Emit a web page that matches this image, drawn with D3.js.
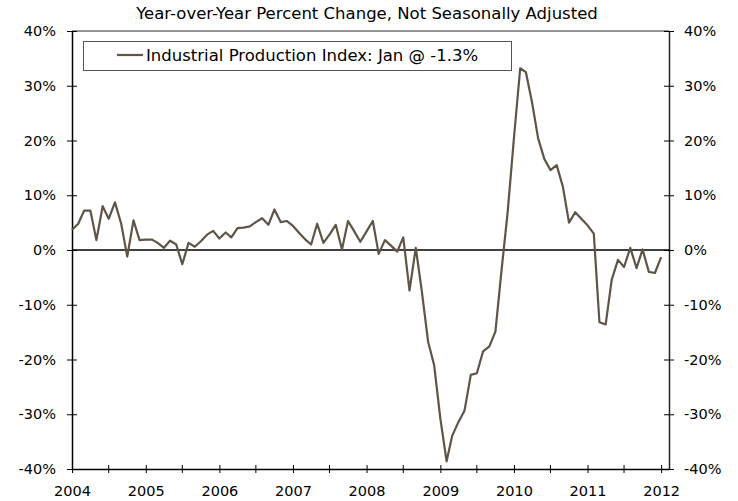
<!DOCTYPE html>
<html>
<head>
<meta charset="utf-8">
<script src="https://cdn.jsdelivr.net/npm/d3@7/dist/d3.min.js"></script>
<style>
  html, body { margin: 0; padding: 0; background: #fff; }
  svg { display: block; font-family: "DejaVu Sans", Verdana, sans-serif; }
</style>
</head>
<body>
<svg id="chart" width="738" height="501"></svg>
<script>
const subtitle = "Year-over-Year Percent Change, Not Seasonally Adjusted";
const seriesName = "Industrial Production Index: Jan @ -1.3%";
const startYear = 2004;
const startMonth = 0;
// Monthly YoY % change, Jan 2004 .. Jan 2012
const values = [
  3.7, 4.8, 7.2, 7.2, 1.8, 8.0, 5.7, 8.7, 4.8, -1.2, 5.4, 1.8,
  1.9, 1.9, 1.3, 0.4, 1.7, 1.0, -2.6, 1.3, 0.6, 1.6, 2.8, 3.5,
  2.1, 3.2, 2.3, 4.0, 4.1, 4.3, 5.1, 5.8, 4.6, 7.4, 5.1, 5.3,
  4.4, 3.1, 2.0, 1.0, 4.8, 1.3, 2.8, 4.6, 0.1, 5.3, 3.4, 1.5,
  3.4, 5.3, -0.7, 1.8, 0.8, -0.3, 2.3, -7.4, 0.4, -7.5, -16.7, -21.0,
  -30.8, -38.6, -33.9, -31.4, -29.3, -22.8, -22.5, -18.5, -17.6, -14.9, -3.5, 7.0,
  20.5, 33.2, 32.5, 26.9, 20.4, 16.6, 14.6, 15.5, 11.5, 5.0, 6.9, 5.7,
  4.5, 3.0, -13.2, -13.6, -5.4, -1.8, -3.1, 0.4, -3.3, 0.1, -4.0, -4.2,
  -1.3
];
const yTicks = [-40, -30, -20, -10, 0, 10, 20, 30, 40];
const yearTicks = [2004, 2005, 2006, 2007, 2008, 2009, 2010, 2011, 2012];

const data = values.map((v, i) => ({ date: new Date(startYear, startMonth + i, 1), value: v }));

const svg = d3.select("#chart");
const L = 72, R = 669, T = 31, B = 469;

const x = d3.scaleTime()
  .domain([new Date(2004, 0, 1), new Date(2012, 1, 9)])
  .range([L, R]);
const y = d3.scaleLinear().domain([-40, 40]).range([B, T]);

// subtitle
svg.append("text")
  .attr("x", 367).attr("y", 19)
  .attr("text-anchor", "middle")
  .attr("font-size", 16.5)
  .attr("fill", "#000")
  .text(subtitle);

// top border
svg.append("line")
  .attr("x1", L).attr("x2", R).attr("y1", T).attr("y2", T)
  .attr("stroke", "#707070").attr("stroke-width", 1.5);

// left axis
const yAxisL = d3.axisLeft(y).tickValues(yTicks).tickFormat(d => d + "%").tickSizeInner(5).tickSizeOuter(0).tickPadding(11);
const gL = svg.append("g").attr("transform", `translate(${L},0)`).call(yAxisL);
gL.select(".domain").attr("stroke", "#000").attr("stroke-width", 1.5);
gL.selectAll(".tick line").attr("stroke", "#000").attr("x2", -5).attr("x1", 5);
gL.selectAll(".tick text").attr("font-size", 14.5).attr("fill", "#000").attr("font-family", "DejaVu Sans, Verdana, sans-serif");

// right axis
const yAxisR = d3.axisRight(y).tickValues(yTicks).tickFormat(d => d + "%").tickSizeInner(5).tickSizeOuter(0).tickPadding(10);
const gR = svg.append("g").attr("transform", `translate(${R},0)`).call(yAxisR);
gR.select(".domain").attr("stroke", "#222").attr("stroke-width", 1.5);
gR.selectAll(".tick line").attr("stroke", "#000").attr("x1", -5).attr("x2", 5);
gR.selectAll(".tick text").attr("font-size", 14.5).attr("fill", "#000").attr("font-family", "DejaVu Sans, Verdana, sans-serif");

// bottom axis
const xAxis = d3.axisBottom(x)
  .tickValues(yearTicks.map(yr => new Date(yr, 0, 1)))
  .tickFormat(d3.timeFormat("%Y"))
  .tickSizeInner(4).tickSizeOuter(0).tickPadding(13);
const gB = svg.append("g").attr("transform", `translate(0,${B})`).call(xAxis);
gB.select(".domain").attr("stroke", "#000").attr("stroke-width", 1.5);
gB.selectAll(".tick line").attr("stroke", "#000").attr("y1", -4).attr("y2", 4);
gB.selectAll(".tick text").attr("font-size", 14.5).attr("fill", "#000").attr("font-family", "DejaVu Sans, Verdana, sans-serif");
// minor mid-year ticks
const minor = yearTicks.slice(0, -1).map(yr => new Date(yr, 6, 1));
gB.selectAll(".minor").data(minor).enter().append("line")
  .attr("class", "minor")
  .attr("x1", d => x(d)).attr("x2", d => x(d))
  .attr("y1", -4).attr("y2", 4)
  .attr("stroke", "#000");

// zero line
svg.append("line")
  .attr("x1", L).attr("x2", R).attr("y1", y(0)).attr("y2", y(0))
  .attr("stroke", "#000").attr("stroke-width", 1.5);

// series line
const line = d3.line().x(d => x(d.date)).y(d => y(d.value));
svg.append("path").datum(data)
  .attr("d", line)
  .attr("fill", "none")
  .attr("stroke", "#5f5448")
  .attr("stroke-width", 2.2)
  .attr("stroke-linejoin", "round");

// legend
const lg = svg.append("g");
lg.append("rect")
  .attr("x", 83.5).attr("y", 41.5).attr("width", 428).attr("height", 29)
  .attr("fill", "#fff").attr("stroke", "#555").attr("stroke-width", 1);
lg.append("line")
  .attr("x1", 117).attr("x2", 143).attr("y1", 55).attr("y2", 55)
  .attr("stroke", "#5f5448").attr("stroke-width", 2.2);
lg.append("text")
  .attr("x", 146).attr("y", 61)
  .attr("font-size", 16.5)
  .attr("fill", "#000")
  .text(seriesName);
</script>
</body>
</html>
